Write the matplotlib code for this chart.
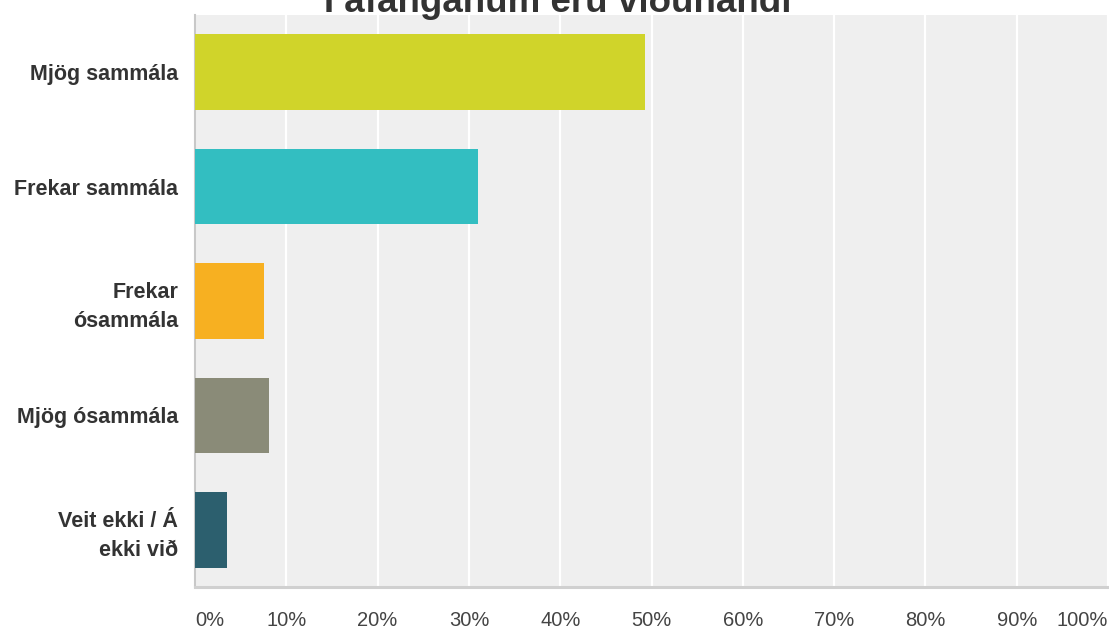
import matplotlib.pyplot as plt
from matplotlib.ticker import FixedLocator

# Data
categories = ['Mjög sammála', 'Frekar sammála', 'Frekar\nósammála',
              'Mjög ósammála', 'Veit ekki / Á\nekki við']
percent = [49.3, 31.0, 7.6, 8.1, 3.5]
colors = ['#d0d42a', '#33bec1', '#f7b021', '#8a8b78', '#2c5f6e']
tick_values = [0, 10, 20, 30, 40, 50, 60, 70, 80, 90, 100]
tick_labels = [f'{v}%' for v in tick_values]
title = 'Í áfanganum eru viðunandi'

plt.rcParams['font.family'] = ['Liberation Sans', 'DejaVu Sans']

fig = plt.figure(figsize=(11.09, 6.30), dpi=100)
ax = fig.add_axes([195 / 1109, 1 - 587 / 630, 913 / 1109, 572 / 630])

ypos = list(range(len(categories)))
ax.barh(ypos, percent, height=0.66, color=colors, zorder=3)

ax.set_xlim(0, 100)
ax.set_ylim(len(categories) - 0.5, -0.5)
ax.set_facecolor('#efefef')

ax.xaxis.set_major_locator(FixedLocator(tick_values))
ax.grid(axis='x', color='white', linewidth=1.6, zorder=1)
ax.set_axisbelow(True)

ax.set_yticks(ypos)
ax.set_yticklabels(categories, fontsize=15.5, fontweight='bold', color='#333333',
                   linespacing=1.5)
ax.tick_params(axis='y', length=0, pad=12)
ax.set_xticks(tick_values)
ax.set_xticklabels(tick_labels, fontsize=14.5, color='#444444')
ax.tick_params(axis='x', length=0, pad=17)
labels = ax.get_xticklabels()
# end labels are kept inside the plot width, as in the reference
labels[0].set_horizontalalignment('left')
labels[-1].set_horizontalalignment('right')

for side in ['top', 'right']:
    ax.spines[side].set_visible(False)
ax.spines['left'].set_color('#c8c8c8')
ax.spines['left'].set_linewidth(1.5)
ax.spines['bottom'].set_color('#d0d0d0')
ax.spines['bottom'].set_linewidth(2.2)

fig.text(558 / 1109, 1 - 12 / 630, title, ha='center', va='baseline',
         fontsize=26.5, fontweight='bold', color='#333333')

fig.savefig('out.png', dpi=100)
